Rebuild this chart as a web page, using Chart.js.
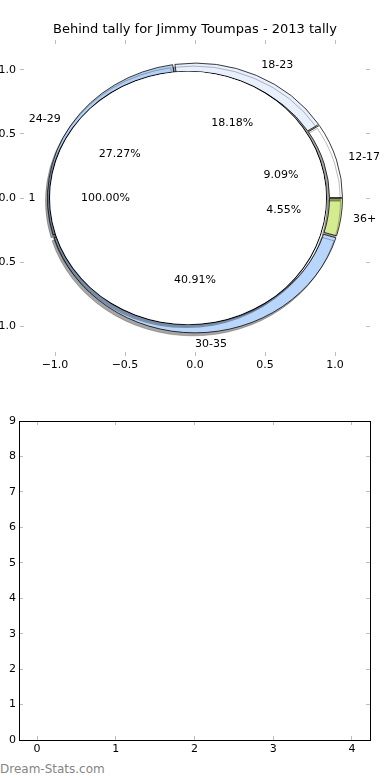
<!DOCTYPE html>
<html>
<head>
<meta charset="utf-8">
<title>Behind tally for Jimmy Toumpas - 2013 tally</title>
<script src="https://cdn.jsdelivr.net/npm/chart.js@4.4.1/dist/chart.umd.min.js"></script>
<style>
  html, body { margin: 0; padding: 0; background: #fff; }
  body { width: 390px; height: 780px; position: relative; overflow: hidden; }
  canvas { position: absolute; }
  #pieChart { left: 35px; top: 38px; z-index: 1; }
  #pieAxes { left: -30px; top: 0; z-index: 2; }
  #emptyChart { left: -30px; top: 395px; }
  #credit { position: absolute; left: 0; top: 762px; font: 12px "DejaVu Sans", sans-serif; color: #858585; }
</style>
</head>
<body>
<canvas id="pieChart" width="320" height="320"></canvas>
<canvas id="pieAxes" width="420" height="385"></canvas>
<canvas id="emptyChart" width="420" height="365"></canvas>
<div id="credit">Dream-Stats.com</div>
<script>
// age groups, counter-clockwise from 3 o'clock like the original pie
const ageGroups = ['12-17', '18-23', '24-29', '30-35', '36+'];
const tallies = [2, 4, 6, 9, 1];
// inner pie: one slice, the whole tally
const innerGroups = ['1'];
const innerTallies = [1];

const pieTicks = [-1, -0.5, 0, 0.5, 1];
const emptyXTicks = [0, 1, 2, 3, 4];
const emptyYTicks = [0, 1, 2, 3, 4, 5, 6, 7, 8, 9];

const ringColors = ['#ffffff', '#e9f0fd', '#b3cff2', '#b8d6fc', '#d5eb8f'];
const TICK = '#bdbdbd';
const yRatio = 128 / 140; // the axes weren't square, so the pie comes out as an ellipse

Chart.defaults.font.family = "'DejaVu Sans', sans-serif";
Chart.defaults.font.size = 11;
Chart.defaults.color = '#000';
Chart.defaults.animation = false;
Chart.defaults.events = [];
Chart.defaults.plugins.legend.display = false;
Chart.defaults.plugins.tooltip.enabled = false;

const fmt = v => (v < 0 ? '\u2212' : '') + Math.abs(v).toFixed(1);

// one side of the frame: inward gray tick marks, fixed size
function side(axis, position, min, max, ticks, size, showLabels, border, labelFmt, pad) {
  return {
    type: 'linear', axis, position, min, max,
    afterBuildTicks: s => { s.ticks = ticks.map(v => ({ value: v })); },
    afterFit: s => { if (axis === 'x') s.height = size; else s.width = size; },
    grid: { drawOnChartArea: false, color: TICK, tickLength: -4 },
    border: border ? { display: true, color: '#000', width: 1 } : { display: false },
    ticks: { display: showLabels, padding: pad, callback: labelFmt }
  };
}

// mid angle and share of each slice
function slices(vals) {
  const total = vals.reduce((a, b) => a + b, 0);
  let acc = 0;
  return vals.map(v => {
    const mid = (acc + v / 2) / total * 2 * Math.PI;
    acc += v;
    return { mid, pct: v / total * 100 };
  });
}

const pieLabels = {
  id: 'pieLabels',
  afterDraw(chart) {
    const { ctx, scales: { x, y } } = chart;
    ctx.save();
    ctx.font = "11px 'DejaVu Sans', sans-serif";
    ctx.fillStyle = '#000';
    ctx.textBaseline = 'middle';
    const put = (names, vals) => {
      slices(vals).forEach((s, i) => {
        const c = Math.cos(s.mid), sn = Math.sin(s.mid);
        ctx.textAlign = c > -1e-9 ? 'left' : 'right';
        ctx.fillText(names[i], x.getPixelForValue(1.14 * c), y.getPixelForValue(1.14 * sn));
        ctx.textAlign = 'center';
        ctx.fillText(s.pct.toFixed(2) + '%', x.getPixelForValue(0.64 * c), y.getPixelForValue(0.64 * sn));
      });
    };
    put(ageGroups, tallies);
    put(innerGroups, innerTallies);
    ctx.restore();
  }
};

// squash to the ellipse, nudge the inner pie left, add the drop shadow
const pieShape = {
  id: 'pieShape',
  beforeDatasetDraw(chart, args) {
    const { ctx, chartArea: a } = chart;
    const cx = (a.left + a.right) / 2, cy = (a.top + a.bottom) / 2;
    ctx.save();
    ctx.translate(cx, cy);
    ctx.scale(1, yRatio);
    if (args.index > 0) {
      ctx.translate(-7, 0);
      ctx.scale(139 / 133, 139 / 133);
    }
    ctx.translate(-cx, -cy);
    ctx.shadowColor = 'rgba(0,0,0,0.35)';
    ctx.shadowOffsetX = -2;
    ctx.shadowOffsetY = 3;
  },
  afterDatasetDraw(chart) {
    chart.ctx.restore();
  }
};

// chart.js goes clockwise, so feed the slices reversed.
// the inner pie is a thin black rim plus a white fill (a bordered single slice shows a seam)
new Chart(document.getElementById('pieChart'), {
  type: 'pie',
  data: {
    labels: ageGroups.slice().reverse(),
    datasets: [
      {
        data: tallies.slice().reverse(),
        backgroundColor: ringColors.slice().reverse(),
        borderColor: '#000',
        borderWidth: 0.8,
        spacing: 3,
        weight: 13,
        order: 2
      },
      {
        data: innerTallies,
        backgroundColor: '#000',
        borderWidth: 0,
        weight: 1,
        order: 1
      },
      {
        data: innerTallies,
        backgroundColor: '#ffffff',
        borderWidth: 0,
        weight: 132,
        order: 0
      }
    ]
  },
  options: {
    responsive: false,
    rotation: 90,
    radius: 146
  },
  plugins: [pieShape]
});

new Chart(document.getElementById('pieAxes'), {
  type: 'scatter',
  data: { datasets: [] },
  options: {
    responsive: false,
    plugins: {
      title: {
        display: true,
        text: 'Behind tally for Jimmy Toumpas - 2013 tally',
        fullSize: false,
        color: '#000',
        font: { size: 13, weight: 'normal' },
        padding: { top: 22, bottom: 0 }
      }
    },
    scales: {
      x: side('x', 'bottom', -1.25, 1.25, pieTicks, 29, true, false, fmt, 7),
      x2: side('x', 'top', -1.25, 1.25, pieTicks, 2.4, false, false),
      y: side('y', 'left', -1.234, 1.234, pieTicks, 50, true, false, fmt, 8),
      y2: side('y', 'right', -1.234, 1.234, pieTicks, 20, false, false)
    }
  },
  plugins: [pieLabels]
});

new Chart(document.getElementById('emptyChart'), {
  type: 'scatter',
  data: { datasets: [] },
  options: {
    responsive: false,
    scales: {
      x: side('x', 'bottom', -0.23, 4.23, emptyXTicks, 20, true, true, v => String(v), 7),
      x2: side('x', 'top', -0.23, 4.23, emptyXTicks, 26, false, true),
      y: side('y', 'left', 0, 9, emptyYTicks, 49, true, true, v => String(v), 7),
      y2: side('y', 'right', 0, 9, emptyYTicks, 20, false, true)
    }
  }
});
</script>
</body>
</html>
